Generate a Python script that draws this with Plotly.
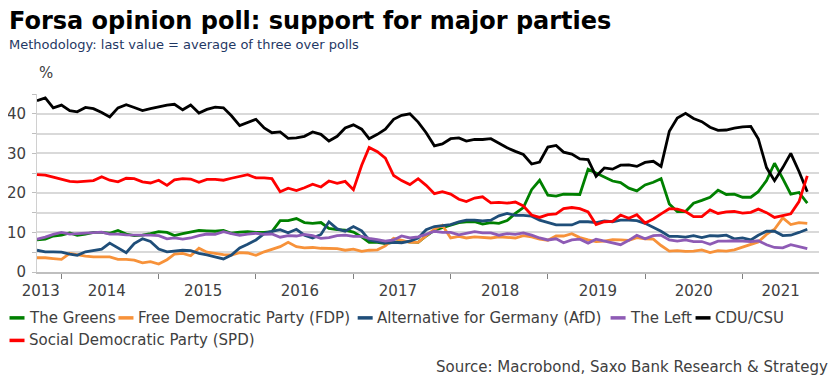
import pandas as pd
import plotly.graph_objects as go

# ---------------- data (monthly readings, Oct 2013 - Sep 2021) ----------------
dates = pd.date_range("2013-10-01", "2021-09-01", freq="MS")

cdu_csu = [43.3, 44.0, 41.5,
           42.2, 40.8, 40.5, 41.6, 41.3, 40.3, 39.2, 41.5, 42.3, 41.6, 40.8, 41.3,
           41.8, 42.2, 42.4, 41.0, 42.2, 40.2, 41.1, 41.7, 41.5, 39.5, 37.0, 37.8,
           38.6, 36.4, 35.2, 35.4, 33.8, 33.9, 34.3, 35.4, 34.8, 33.1, 34.3, 36.4,
           37.2, 36.1, 33.7, 34.8, 36.1, 38.6, 39.6, 40.0, 37.9, 35.2, 31.9, 32.4,
           33.7, 33.9, 33.1, 33.5, 33.5, 33.7, 32.6, 31.4, 30.5, 29.7, 27.3, 27.8,
           31.6, 32.0, 30.3, 29.8, 28.6, 28.4, 24.2, 26.3, 26.0, 27.0, 27.1, 26.7,
           27.7, 28.0, 26.7, 35.6, 38.9, 40.1, 38.8, 38.0, 36.6, 35.8, 35.9, 36.4,
           36.7, 36.8, 33.7, 26.4, 23.1, 26.4, 30.0, 25.4, 20.3]

spd = [24.6, 24.5, 24.0,
       23.5, 22.9, 22.8, 22.9, 23.1, 24.1, 23.2, 22.8, 23.7, 23.6, 22.8, 22.5,
       23.2, 21.9, 23.3, 23.6, 23.5, 22.7, 23.4, 23.4, 23.2, 23.7, 24.2, 24.6,
       23.8, 23.8, 23.6, 20.3, 21.2, 20.6, 21.3, 22.2, 21.5, 23.0, 22.4, 22.9,
       20.8, 27.0, 31.5, 30.4, 28.8, 24.4, 23.1, 22.1, 23.6, 21.9, 19.8, 20.3,
       19.7, 18.4, 17.8, 18.7, 19.0, 17.5, 17.6, 17.4, 17.7, 16.7, 14.4, 13.8,
       14.5, 14.7, 16.0, 16.3, 16.0, 15.2, 12.0, 12.7, 12.8, 14.4, 13.6, 14.5,
       12.4, 13.4, 14.7, 16.0, 15.9, 15.3, 14.0, 14.0, 15.7, 14.8, 15.2, 15.3,
       14.9, 15.1, 15.9, 15.0, 13.8, 14.2, 14.7, 17.8, 24.3]

greens = [8.1, 8.3, 9.1,
          9.3, 9.9, 9.3, 9.6, 10.0, 10.0, 9.8, 10.5, 9.6, 9.2, 9.3, 9.7,
          10.2, 10.0, 9.2, 9.7, 10.1, 10.5, 10.4, 10.3, 10.5, 9.8, 10.1, 10.2,
          10.0, 10.0, 10.2, 13.0, 13.0, 13.5, 12.5, 12.3, 12.5, 11.0, 10.7, 10.6,
          10.1, 8.9, 7.5, 7.5, 7.2, 7.5, 7.8, 7.6, 7.5, 9.1, 10.6, 11.2,
          11.9, 12.5, 12.7, 12.7, 12.1, 12.5, 12.3, 13.0, 14.8, 16.3, 20.8, 23.2,
          19.4, 19.2, 19.7, 19.6, 19.6, 26.0, 25.0, 23.9, 23.0, 22.6, 21.2, 20.5,
          22.0, 22.7, 23.6, 17.2, 15.3, 15.3, 17.4, 18.1, 18.9, 20.7, 19.6, 19.7,
          18.9, 18.9, 20.3, 23.1, 27.5, 23.6, 19.7, 20.1, 17.4]

afd = [5.5, 5.1, 5.1,
       5.0, 4.5, 4.2, 5.1, 5.5, 5.8, 7.3, 6.0, 4.9, 7.2, 8.4, 7.7,
       5.8, 5.1, 5.3, 5.5, 5.4, 4.7, 4.3, 3.7, 3.3, 4.3, 6.1, 7.0,
       8.1, 9.7, 10.3, 10.7, 9.9, 10.8, 9.3, 8.6, 9.5, 12.7, 10.9, 10.3,
       11.5, 10.4, 8.1, 7.7, 7.3, 7.5, 7.4, 7.8, 8.6, 10.7, 11.5, 11.7,
       12.0, 12.7, 13.1, 13.1, 12.9, 13.1, 14.2, 14.8, 14.3, 14.3, 14.1, 13.1,
       12.5, 11.9, 11.9, 11.9, 12.7, 12.7, 12.5, 12.9, 12.7, 13.1, 13.1, 13.0,
       12.3, 11.3, 10.3, 9.0, 9.0, 8.8, 9.2, 8.7, 9.2, 9.1, 9.3, 8.4,
       8.6, 8.1, 9.3, 10.3, 10.3, 9.2, 9.3, 10.0, 10.8]

left = [8.3, 8.8, 9.5,
        10.0, 9.6, 9.7, 9.8, 10.0, 10.1, 9.6, 9.6, 9.4, 9.3, 9.3, 9.3,
        9.2, 8.4, 8.6, 8.3, 8.6, 9.2, 9.6, 9.5, 10.2, 9.7, 9.3, 9.6,
        9.8, 9.5, 9.6, 8.8, 9.2, 9.1, 9.5, 9.2, 8.5, 8.7, 9.2, 9.3,
        9.0, 9.0, 8.5, 8.2, 7.8, 8.1, 9.1, 8.6, 8.9, 9.5, 10.3, 10.0,
        10.0, 9.4, 9.7, 10.2, 9.9, 9.9, 9.3, 9.7, 9.5, 9.9, 9.3, 8.6,
        8.1, 8.4, 7.4, 8.1, 8.3, 7.3, 8.3, 7.8, 7.3, 6.9, 8.0, 9.3,
        8.4, 9.2, 9.3, 8.1, 7.8, 8.1, 7.7, 7.7, 7.0, 7.8, 7.8, 7.9,
        7.8, 7.7, 7.9, 6.9, 6.2, 6.1, 6.9, 6.4, 5.9]

fdp = [3.6, 3.6, 3.4,
       3.2, 4.7, 4.3, 4.0, 3.8, 3.8, 3.8, 3.2, 3.2, 3.0, 2.3, 2.6,
       2.0, 3.1, 4.5, 4.7, 4.1, 6.0, 5.0, 4.7, 4.4, 4.3, 4.9, 4.8,
       4.2, 5.1, 5.8, 6.4, 7.5, 6.4, 6.1, 6.2, 6.0, 5.9, 5.9, 5.5,
       5.8, 5.2, 5.5, 5.6, 6.6, 8.5, 8.1, 7.5, 7.5, 9.1, 10.8, 11.8,
       8.6, 9.0, 8.6, 8.9, 8.8, 8.6, 8.9, 8.8, 8.6, 9.2, 8.9, 8.3,
       8.0, 9.1, 9.1, 9.7, 8.7, 8.1, 7.7, 7.8, 8.2, 8.1, 8.0, 8.7,
       8.4, 8.3, 6.7, 5.3, 5.4, 5.2, 5.3, 5.6, 4.9, 5.4, 5.3, 5.6,
       6.3, 6.8, 7.6, 9.5, 10.8, 13.7, 12.0, 12.5, 12.3]

series_names = ["The Greens", "Free Democratic Party (FDP)", "Alternative for Germany (AfD)",
                "The Left", "CDU/CSU", "Social Democratic Party (SPD)"]
series_values = [greens, fdp, afd, left, cdu_csu, spd]
series_colors = ["#008000", "#f7923a", "#1f4e79", "#8e5bb5", "#000000", "#ff0000"]

year_label_dates = ["2013-10-15", "2014-06-20", "2015-06-17", "2016-06-14", "2017-06-17",
                    "2018-07-06", "2019-07-08", "2020-07-02", "2021-05-24"]
year_labels = ["2013", "2014", "2015", "2016", "2017", "2018", "2019", "2020", "2021"]
year_starts = ["2014-01-01", "2015-01-01", "2016-01-01", "2017-01-01",
               "2018-01-01", "2019-01-01", "2020-01-01", "2021-01-01"]

y_ticks = [0, 5, 10, 15, 20, 25, 30, 35, 40, 45]
y_ticktext = ["0", "", "10", "", "20", "", "30", "", "40", ""]

# ---------------- layout geometry ----------------
# the page body has an 8px margin, so the figure is drawn 8px smaller and
# all positions below are given in window pixels, shifted by OFF.
OFF = 8
W, H = 839 - OFF, 385 - OFF
PLOT_L, PLOT_R, PLOT_T, PLOT_B = 36.7, 819, 94, 271.7   # window pixels
ML = PLOT_L - OFF
MR = 839 - PLOT_R
MT = PLOT_T - OFF
MB = 385 - PLOT_B
PW = W - ML - MR
PH = H - MT - MB


def pxx(x):
    return (x - OFF - ML) / PW


def pxy(y):
    return (H - MB - (y - OFF)) / PH


FONT = "DejaVu Sans"
TXT = "#404040"

fig = go.Figure()
for name, vals, col in zip(series_names, series_values, series_colors):
    fig.add_trace(go.Scatter(x=dates, y=vals, mode="lines", name=name,
                             line=dict(color=col, width=2.8), showlegend=False))

shapes = []
annotations = []

# custom legend
legend_rows = [(317.5, [0, 1, 2, 3, 4], [27.7, 136.7, 376, 629, 714]),
               (340.0, [5], [27.7])]
for ypix, idxs, xs in legend_rows:
    for i, tx in zip(idxs, xs):
        shapes.append(dict(type="line", xref="paper", yref="paper",
                           x0=pxx(tx - 18.5), x1=pxx(tx - 3.5), y0=pxy(ypix), y1=pxy(ypix),
                           line=dict(color=series_colors[i], width=3.5)))
        annotations.append(dict(text=series_names[i], xref="paper", yref="paper",
                                x=pxx(tx - 1), y=pxy(ypix), xanchor="left", yanchor="middle",
                                showarrow=False, font=dict(family=FONT, size=15, color=TXT)))

annotations.append(dict(text="Source: Macrobond, Saxo Bank Research & Strategy",
                        xref="paper", yref="paper", x=pxx(830), y=pxy(367),
                        xanchor="right", yanchor="middle", showarrow=False,
                        font=dict(family=FONT, size=15, color=TXT)))
annotations.append(dict(text="Forsa opinion poll: support for major parties",
                        xref="paper", yref="paper", x=pxx(7), y=pxy(21),
                        xanchor="left", yanchor="middle", showarrow=False,
                        font=dict(family=FONT, size=24, color="#000000", weight="bold")))
annotations.append(dict(text="Methodology: last value = average of three over polls",
                        xref="paper", yref="paper", x=pxx(7), y=pxy(45),
                        xanchor="left", yanchor="middle", showarrow=False,
                        font=dict(family=FONT, size=13, color="#1f3864")))
annotations.append(dict(text="%", xref="paper", yref="paper", x=pxx(37), y=pxy(73),
                        xanchor="left", yanchor="middle", showarrow=False,
                        font=dict(family=FONT, size=15, color=TXT)))

fig.update_layout(
    width=W, height=H,
    margin=dict(l=ML, r=MR, t=MT, b=MB, pad=0, autoexpand=False),
    paper_bgcolor="white", plot_bgcolor="white",
    shapes=shapes, annotations=annotations,
    xaxis=dict(type="date", range=["2013-10-01", "2021-10-15"], automargin=False,
               tickmode="array", tickvals=year_label_dates, ticktext=year_labels,
               ticks="", showgrid=False, zeroline=False,
               showline=True, linecolor="#bfbfbf", linewidth=1.5,
               tickfont=dict(family=FONT, size=15, color=TXT),
               ticklabelstandoff=4,
               minor=dict(tickmode="array", tickvals=year_starts, ticks="outside",
                          ticklen=5, tickcolor="#808080", tickwidth=1, showgrid=False)),
    yaxis=dict(range=[0, 45], automargin=False,
               tickmode="array", tickvals=y_ticks, ticktext=y_ticktext,
               showgrid=True, gridcolor="#d9d9d9", gridwidth=1.5, zeroline=False,
               showline=True, linecolor="#d0d0d0", linewidth=1,
               ticks="outside", ticklen=4, tickcolor="#bfbfbf",
               tickfont=dict(family=FONT, size=15, color=TXT),
               ticklabelstandoff=3),
)

fig.write_html("out.html")
